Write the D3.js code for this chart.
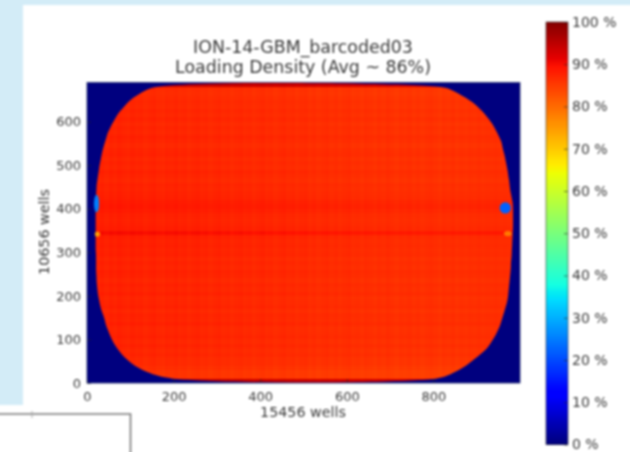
<!DOCTYPE html>
<html>
<head>
<meta charset="utf-8">
<script src="https://cdn.jsdelivr.net/npm/d3@7"></script>
<style>
    html, body { margin: 0; padding: 0; background: #fff; overflow: hidden; }
    text { font-family: "DejaVu Sans", sans-serif; fill: #3a3a3a; }
</style>
</head>
<body>
<div id="chart"></div>
<script>
// Chart text
const titleLines = ["ION-14-GBM_barcoded03", "Loading Density (Avg ~ 86%)"];
const xLabel = "15456 wells";
const yLabel = "10656 wells";

// Axis ticks
const xTicks = [0, 200, 400, 600, 800];
const yTicks = [0, 100, 200, 300, 400, 500, 600];
const barTicks = [0, 10, 20, 30, 40, 50, 60, 70, 80, 90, 100];

// Jet colour map, stops in percent
const jetStops = [0, 11, 12.5, 34, 35, 37.5, 64, 65, 66, 89, 91, 100];
const jetColors = ["#00007f", "#0000ff", "#0000ff", "#00dbff", "#00e5f7", "#14ffe2",
    "#eeff03", "#f7f500", "#ffec00", "#ff1300", "#e80000", "#7f0000"];

// Chip outline: first and last loaded well in each row (rows are 10 wells high)
const rowStarts = d3.range(0, 690, 10);
const leftEdge = [225, 165, 138, 118, 103, 91, 81, 73, 66, 60, 55, 51, 47, 43, 41, 38, 34, 31, 29, 27,
    25, 24, 23, 22, 22, 21, 21, 21, 21, 21, 20, 20, 20, 20, 20, 20, 20, 20, 20, 20,
    20, 20, 21, 21, 22, 22, 24, 25, 27, 28, 30, 32, 34, 36, 39, 42, 45, 48, 53, 58,
    64, 69, 77, 86, 95, 106, 122, 141, 170];
const rightEdge = [790, 830, 850, 868, 882, 895, 907, 920, 928, 934, 941, 946, 951, 955, 958, 961, 964, 967, 970, 972,
    973, 974, 975, 976, 977, 978, 979, 979, 980, 981, 981, 982, 982, 983, 983, 984, 984, 984, 984, 984,
    984, 983, 981, 979, 977, 976, 975, 973, 972, 970, 968, 966, 964, 961, 959, 957, 952, 947, 942, 936,
    929, 921, 912, 902, 890, 875, 858, 838, 810];

// Loading density in percent, estimated per row and per column
const baseDensity = 86.5;
const rowShift = [7, -1.5, -1.5, -1, -0.5, -0.5, 0, -0.3, 0.2, -0.2, 0.3, 0, -0.2, 0.4, 0, 0.2, -0.3, 0.3, 0, -0.2,
    0.4, 0, 0.3, -0.2, 0.2, 0.4, 0, 0.3, -0.1, 0.4, 0.2, 0.5, 0.3, 0.6, 2.4, 0.7, 0.4, 0.2, 0.4, 0.9,
    1.3, 1, 0.5, 0.3, 0, 0.2, -0.3, 0, 0.3, -0.2, 0.1, -0.3, 0.2, 0, -0.4, 0, 0.3, -0.2, 0, -0.4,
    0.1, -0.3, 0, -0.4, -0.2, -0.5, -0.8, -0.6, 7];
const colShift = [1, 1, 0.8, 1, 0.6, 1, 0.7, 1.1, 0.8, 0.6, 1, 0.7, 0.9, 0.5, 0.8, 1, 0.6, 0.4, 0.8, 0.6,
    0.9, 0.5, 0.7, 0.3, 0.6, 0.8, 0.4, 0.6, 0.2, 0.5, 0.7, 0.3, 0.5, 0.1, 0.4, 0.6, 0.2, 0.4, 0, 0.3,
    0.5, 0.1, 0.3, -0.1, 0.2, 0.4, 0, 0.2, -0.2, 0.1, 0.2, -0.3, 0, -0.4, -0.1, 0.1, -0.4, -0.1, -0.5, -0.2,
    0, -0.5, -0.3, -0.6, -0.2, -0.4, -0.7, -0.3, -0.6, -0.2, -0.5, -0.8, -0.4, -0.6, -0.3, -0.7, -0.4, -0.8, -0.5, -0.3,
    -0.6, -0.9, -0.5, -0.7, -0.4, -0.8, -0.5, -0.7, -0.4, -0.6, -0.3, -0.6, -0.4, -0.5, -0.3, -0.5, -0.4, -0.5, -0.4, -0.5];
const colStarts = d3.range(0, 1000, 10);

// Defects along the chip sides: well, row, half width, half height (wells), density
const spotWells = [966, 22, 24, 972];
const spotRows = [402, 412, 342, 343];
const spotHalfW = [13, 6, 6, 9];
const spotHalfH = [13, 20, 6, 6];
const spotValues = [22, 25, 74, 78];

const svg = d3.select("#chart").append("svg")
    .attr("width", 630)
    .attr("height", 452)
    .style("display", "block");

const page = svg.append("g").style("filter", "blur(0.8px)");

// Web page the figure was screenshotted from
page.append("rect").attr("x", -5).attr("y", -5).attr("width", 645).attr("height", 465).attr("fill", "#fff");
page.append("rect").attr("x", -5).attr("y", -5).attr("width", 645).attr("height", 10).attr("fill", "#d3ecf7");
page.append("rect").attr("x", -5).attr("y", -5).attr("width", 28).attr("height", 410).attr("fill", "#d3ecf7");
page.append("path")
    .attr("d", "M-5,414H130.5V460")
    .attr("fill", "none")
    .attr("stroke", "#777")
    .attr("stroke-width", 1.6);
page.append("path")
    .attr("d", "M32,411V418")
    .attr("stroke", "#aaa")
    .attr("stroke-width", 1);

// Scales
const x = d3.scaleLinear().domain([0, 1000]).range([87, 520]);
const y = d3.scaleLinear().domain([0, 690]).range([383, 82.5]);
const barY = d3.scaleLinear().domain([0, 100]).range([444.5, 22]);
const color = d3.scaleLinear().domain(jetStops).range(jetColors).clamp(true);

// Smooth chip outline used as a clip for the heatmap cells
const outlineLine = d3.line().curve(d3.curveBasisClosed);
const outlinePoints = rowStarts.map((row, i) => [x(leftEdge[i]), y(row + 5)])
    .concat([[x(400), y(691)]])
    .concat(rowStarts.map((row, i) => [x(rightEdge[i]), y(row + 5)]).reverse())
    .concat([[x(500), y(-1)]]);

svg.append("defs").append("clipPath")
    .attr("id", "chip")
    .append("path")
    .attr("d", outlineLine(outlinePoints));

// Heatmap
const plot = page.append("g");
plot.append("rect")
    .attr("x", x(0))
    .attr("y", y(690))
    .attr("width", x(1000) - x(0))
    .attr("height", y(0) - y(690))
    .attr("fill", color(0));

const cells = [];
rowStarts.forEach((row, i) => {
    colStarts.forEach((col, j) => {
        if (col + 10 > leftEdge[i] - 20 && col < rightEdge[i] + 20) {
            cells.push({ row, col, value: baseDensity + rowShift[i] + colShift[j] });
        }
    });
});

const chip = plot.append("g").attr("clip-path", "url(#chip)");

chip.selectAll(".cell")
    .data(cells)
    .enter()
    .append("rect")
    .attr("class", "cell")
    .attr("x", d => x(d.col))
    .attr("y", d => y(d.row + 10))
    .attr("width", d => x(d.col + 10) - x(d.col))
    .attr("height", d => y(d.row) - y(d.row + 10))
    .attr("shape-rendering", "crispEdges")
    .attr("fill", d => color(d.value));

plot.selectAll(".spot")
    .data(spotValues)
    .enter()
    .append("ellipse")
    .attr("class", "spot")
    .attr("cx", (d, i) => x(spotWells[i]))
    .attr("cy", (d, i) => y(spotRows[i]))
    .attr("rx", (d, i) => x(spotHalfW[i]) - x(0))
    .attr("ry", (d, i) => y(0) - y(spotHalfH[i]))
    .attr("fill", d => color(d));

// Axes
const xAxis = page.append("g")
    .attr("transform", `translate(0,${y(0)})`)
    .call(d3.axisBottom(x).tickValues(xTicks).tickFormat(d3.format("d")).tickSizeInner(-4).tickSizeOuter(0).tickPadding(9));
const yAxis = page.append("g")
    .attr("transform", `translate(${x(0)},0)`)
    .call(d3.axisLeft(y).tickValues(yTicks).tickFormat(d3.format("d")).tickSizeInner(-4).tickSizeOuter(0).tickPadding(6));

page.append("rect")
    .attr("x", x(0))
    .attr("y", y(690))
    .attr("width", x(1000) - x(0))
    .attr("height", y(0) - y(690))
    .attr("fill", "none")
    .attr("stroke", "#1c2a60")
    .attr("stroke-width", 0.7);

// Colour bar, one strip per half percent
page.selectAll(".strip")
    .data(d3.range(0, 100, 0.5))
    .enter()
    .append("rect")
    .attr("class", "strip")
    .attr("x", 546)
    .attr("y", d => barY(d + 0.5))
    .attr("width", 22)
    .attr("height", d => barY(d) - barY(d + 0.5))
    .attr("shape-rendering", "crispEdges")
    .attr("fill", d => color(d));

const barAxis = page.append("g")
    .attr("transform", "translate(568,0)")
    .call(d3.axisRight(barY).tickValues(barTicks).tickFormat(d => d + " %").tickSizeInner(-4).tickSizeOuter(0).tickPadding(4));

page.append("rect")
    .attr("x", 546)
    .attr("y", barY(100))
    .attr("width", 22)
    .attr("height", barY(0) - barY(100))
    .attr("fill", "none")
    .attr("stroke", "#3a3a3a")
    .attr("stroke-width", 0.6);

[xAxis, yAxis, barAxis].forEach(a => {
    a.selectAll(".domain").remove();
    a.selectAll("line").attr("stroke", "#222").attr("stroke-width", 0.6);
    a.selectAll("text").style("font-family", '"DejaVu Sans", sans-serif').style("font-size", "13px").attr("fill", "#3a3a3a");
});
barAxis.selectAll("text").style("font-size", "14px");

// Titles
page.selectAll(".title")
    .data(titleLines)
    .enter()
    .append("text")
    .attr("class", "title")
    .attr("x", 303)
    .attr("y", (d, i) => 53 + i * 20)
    .attr("text-anchor", "middle")
    .style("font-size", "17.4px")
    .text(d => d);

page.append("text")
    .attr("x", 303)
    .attr("y", 417)
    .attr("text-anchor", "middle")
    .style("font-size", "14.3px")
    .text(xLabel);

page.append("text")
    .attr("transform", "translate(49,232) rotate(-90)")
    .attr("text-anchor", "middle")
    .style("font-size", "14.3px")
    .text(yLabel);
</script>
</body>
</html>
